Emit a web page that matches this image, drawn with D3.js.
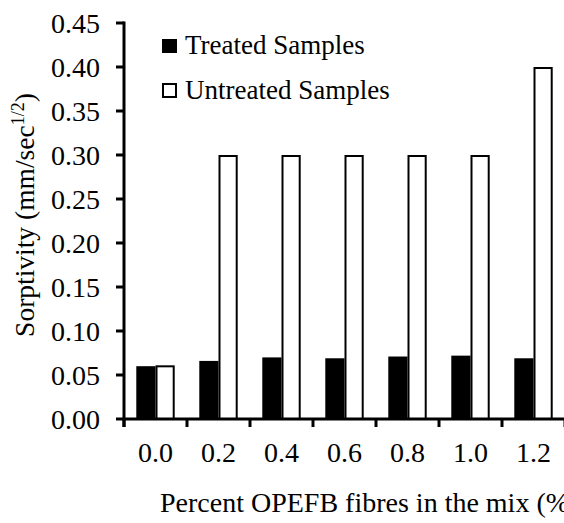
<!DOCTYPE html>
<html>
<head>
<meta charset="utf-8">
<script src="https://cdn.jsdelivr.net/npm/d3@7"></script>
<style>
html,body{margin:0;padding:0;background:#fff;overflow:hidden;}
svg{display:block;}
svg text{font-family:"Liberation Serif","Times New Roman",serif;}
</style>
</head>
<body>
<svg id="chart" width="564" height="523"></svg>
<script>
const categories = ["0.0","0.2","0.4","0.6","0.8","1.0","1.2"];
const seriesNames = ["Treated Samples","Untreated Samples"];
const treated = [0.060,0.066,0.070,0.069,0.071,0.072,0.069];
const untreated = [0.061,0.300,0.300,0.300,0.300,0.300,0.400];
const yTicks = [0,0.05,0.10,0.15,0.20,0.25,0.30,0.35,0.40,0.45];

const FS = 28;
const svg = d3.select("#chart");
const x0 = 124, x1 = 565, yTop = 23, yBot = 419;
const x = d3.scaleBand().domain(categories).range([x0, x1]).padding(0);
const xs = d3.scaleBand().domain(seriesNames).range([0, x.bandwidth()]).paddingInner(0).paddingOuter(0.64);
const y = d3.scaleLinear().domain([0,0.45]).range([yBot, yTop]);

const data = categories.map((c,i)=>({cat:c, vals:[treated[i], untreated[i]]}));

const g = svg.append("g");
const groups = g.selectAll("g.grp").data(data).join("g").attr("class","grp")
  .attr("transform", d=>`translate(${x(d.cat)},0)`);

groups.selectAll("rect").data(d=>d.vals.map((v,j)=>({s:seriesNames[j], v}))).join("rect")
  .attr("x", d=> d.s===seriesNames[0] ? xs(d.s) : xs(d.s)+1)
  .attr("width", d=> d.s===seriesNames[0] ? xs.bandwidth() : xs.bandwidth()-2)
  .attr("y", d=> d.s===seriesNames[0] ? y(d.v) : y(d.v)+1)
  .attr("height", d=> d.s===seriesNames[0] ? yBot - y(d.v) : yBot - y(d.v) - 1)
  .attr("fill", d=> d.s===seriesNames[0] ? "#000" : "#fff")
  .attr("stroke", d=> d.s===seriesNames[0] ? "none" : "#000")
  .attr("stroke-width", 2);

// Y axis
const yAxis = g.append("g").attr("transform",`translate(${x0},0)`);
yAxis.append("line").attr("x1",0).attr("x2",0).attr("y1",y(0.45)-1.5).attr("y2",yBot+8)
  .attr("stroke","#000").attr("stroke-width",3);
yAxis.selectAll("line.tk").data(yTicks).join("line").attr("class","tk")
  .attr("x1",-8).attr("x2",0).attr("y1",d=>y(d)).attr("y2",d=>y(d))
  .attr("stroke","#000").attr("stroke-width",3);
yAxis.selectAll("text").data(yTicks).join("text")
  .attr("x",-24).attr("y",d=>y(d)+9.5)
  .attr("text-anchor","end").attr("font-size",FS).attr("fill","#000")
  .text(d=>d3.format(".2f")(d));

// X axis
const xAxis = g.append("g");
xAxis.append("line").attr("x1",x0-1.5).attr("x2",x1).attr("y1",yBot).attr("y2",yBot)
  .attr("stroke","#000").attr("stroke-width",3);
const bounds = categories.map(c=>x(c)).concat([x1]);
xAxis.selectAll("line.tk").data(bounds).join("line").attr("class","tk")
  .attr("x1",d=>d).attr("x2",d=>d).attr("y1",yBot).attr("y2",yBot+8)
  .attr("stroke","#000").attr("stroke-width",3);
xAxis.selectAll("text").data(categories).join("text")
  .attr("x",d=>x(d)+x.bandwidth()/2).attr("y",462)
  .attr("text-anchor","middle").attr("font-size",FS).attr("fill","#000")
  .text(d=>d);

// Axis titles (the reference itself is cut off at the right edge)
svg.append("text").attr("x",160).attr("y",512).attr("font-size",FS).attr("fill","#000")
  .text("Percent OPEFB fibres in the mix (%)");
const yt = svg.append("text").attr("transform","translate(34,215) rotate(-90)")
  .attr("text-anchor","middle").attr("font-size",27.5).attr("fill","#000");
yt.append("tspan").text("Sorptivity (mm/sec");
yt.append("tspan").attr("font-size",18).attr("dy",-10).text("1/2");
yt.append("tspan").attr("dy",10).text(")");

// Legend
const leg = svg.append("g");
const legRows = seriesNames.map((s,i)=>({s,i}));
leg.selectAll("rect").data(legRows).join("rect")
  .attr("x",d=>d.i===0?162:163).attr("y",d=>d.i===0?39:84)
  .attr("width",d=>d.i===0?15:13).attr("height",d=>d.i===0?14:13)
  .attr("fill",d=>d.i===0?"#000":"#fff").attr("stroke",d=>d.i===0?"none":"#000").attr("stroke-width",2);
leg.selectAll("text").data(legRows).join("text")
  .attr("x",185).attr("y",d=>54+d.i*45).attr("font-size",27).attr("fill","#000")
  .text(d=>d.s);
</script>
</body>
</html>
